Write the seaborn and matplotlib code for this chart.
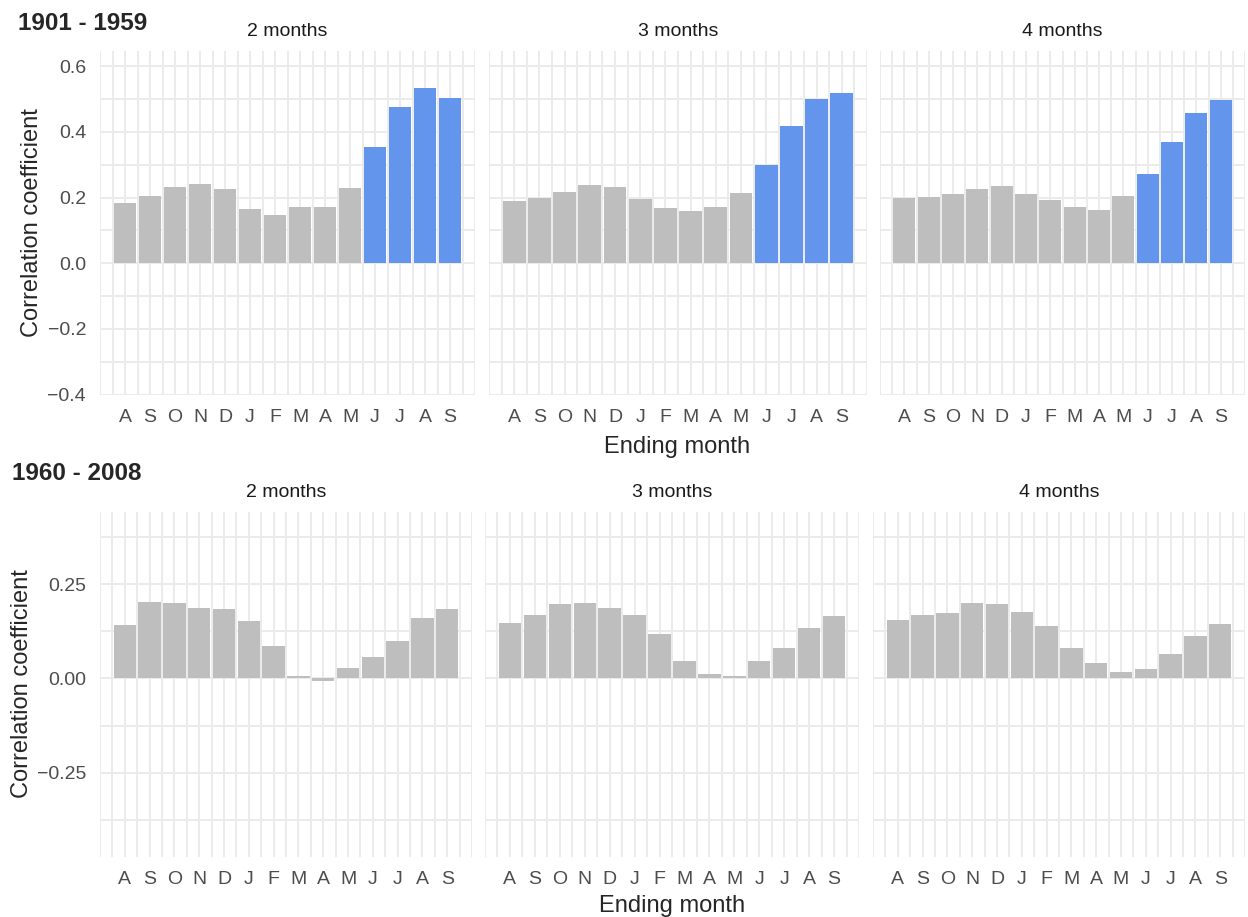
import numpy as np
import pandas as pd
import seaborn as sns
import matplotlib.pyplot as plt

# month at the end of the moving window (Aug of previous year -> Sep)
months = ["A", "S", "O", "N", "D", "J", "F", "M", "A", "M", "J", "J", "A", "S"]
windows = ["2 months", "3 months", "4 months"]
periods = ["1901 - 1959", "1960 - 2008"]

# correlation coefficients
early_2m = [0.183, 0.205, 0.233, 0.240, 0.227, 0.166, 0.148, 0.172, 0.172, 0.230, 0.353, 0.475, 0.533, 0.504]
early_3m = [0.188, 0.200, 0.217, 0.239, 0.233, 0.197, 0.167, 0.159, 0.172, 0.214, 0.299, 0.419, 0.500, 0.517]
early_4m = [0.198, 0.201, 0.211, 0.226, 0.236, 0.210, 0.192, 0.172, 0.163, 0.205, 0.273, 0.368, 0.457, 0.498]

late_2m = [0.141, 0.203, 0.201, 0.188, 0.184, 0.153, 0.087, 0.006, -0.007, 0.029, 0.057, 0.100, 0.160, 0.184]
late_3m = [0.148, 0.169, 0.198, 0.201, 0.187, 0.168, 0.118, 0.047, 0.011, 0.007, 0.046, 0.081, 0.134, 0.165]
late_4m = [0.155, 0.169, 0.174, 0.201, 0.199, 0.176, 0.139, 0.080, 0.041, 0.018, 0.025, 0.066, 0.113, 0.145]

# significant months (blue)
early_sig = [False, False, False, False, False, False, False, False, False, False, True, True, True, True]
late_sig = [False, False, False, False, False, False, False, False, False, False, False, False, False, False]

rows = []
for period, series, sig in [
    (periods[0], [early_2m, early_3m, early_4m], early_sig),
    (periods[1], [late_2m, late_3m, late_4m], late_sig),
]:
    for win, vals in zip(windows, series):
        for i, (m, v, s) in enumerate(zip(months, vals, sig)):
            rows.append({"period": period, "window": win, "pos": i, "month": m, "r": v, "sig": s})
df = pd.DataFrame(rows)

sns.set_theme(style="white")
plt.rcParams["font.family"] = ["Liberation Sans", "DejaVu Sans"]

W, H = 1248, 917
fig = plt.figure(figsize=(W / 100, H / 100), dpi=100)
fig.patch.set_facecolor("white")

# panel boxes in pixels: (left, right, top, bottom)
boxes = {
    periods[0]: [(100, 475, 51, 395), (489, 867, 51, 395), (880, 1245, 51, 395)],
    periods[1]: [(100, 472, 512, 857), (485, 859, 512, 857), (873, 1245, 512, 857)],
}
ylims = {periods[0]: (-0.401, 0.646), periods[1]: (-0.474, 0.442)}
yticks = {periods[0]: [-0.4, -0.2, 0.0, 0.2, 0.4, 0.6], periods[1]: [-0.25, 0.0, 0.25]}
yminor = {periods[0]: [-0.3, -0.1, 0.1, 0.3, 0.5], periods[1]: [-0.375, -0.125, 0.125, 0.375]}
yfmt = {periods[0]: "{:.1f}", periods[1]: "{:.2f}"}

palette = {True: "#6495ED", False: "#BEBEBE"}
tick_col = "#4D4D4D"

for period in periods:
    for j, win in enumerate(windows):
        l, r, t, b = boxes[period][j]
        ax = fig.add_axes([l / W, 1 - b / H, (r - l) / W, (b - t) / H])
        sub = df[(df.period == period) & (df.window == win)]
        sns.barplot(data=sub, x="pos", y="r", hue="sig", palette=palette, dodge=False,
                    width=0.9, saturation=1, legend=False, ax=ax, linewidth=0)
        ax.set_xlim(-1, 14)
        ax.set_ylim(*ylims[period])
        ax.set_xticks(range(len(months)))
        ax.set_xticklabels(months)
        ax.set_xticks(np.arange(-1, 14.01, 0.5), minor=True)
        ax.set_yticks(yticks[period])
        ax.set_yticks(yminor[period], minor=True)
        if j == 0:
            ax.set_yticklabels([yfmt[period].format(v).replace("-", "\u2212") for v in yticks[period]])
        else:
            ax.set_yticklabels([])
        ax.set_xlabel("")
        ax.set_ylabel("")
        ax.grid(True, which="both", color="#EBEBEB", linewidth=1.4)
        ax.set_axisbelow(True)
        for s in ax.spines.values():
            s.set_visible(False)
        ax.tick_params(which="both", length=0)
        ax.tick_params(axis="x", pad=10, labelsize=14, labelcolor=tick_col)
        ax.tick_params(axis="y", pad=10, labelsize=14, labelcolor=tick_col)
        fig.text((l + r) / 2 / W, 1 - (t - 19) / H, win, ha="center", va="center",
                 fontsize=14, color="#1A1A1A")

# titles and axis labels
fig.text(18 / W, 1 - 24 / H, periods[0], ha="left", va="center", fontsize=17.5, fontweight="bold")
fig.text(12 / W, 1 - 473 / H, periods[1], ha="left", va="center", fontsize=17.5, fontweight="bold")
fig.text(32 / W, 1 - 223 / H, "Correlation coefficient", rotation=90, ha="center", va="center", fontsize=17)
fig.text(22 / W, 1 - 684 / H, "Correlation coefficient", rotation=90, ha="center", va="center", fontsize=17)
fig.text(677 / W, 1 - 447 / H, "Ending month", ha="center", va="center", fontsize=17)
fig.text(672 / W, 1 - 906 / H, "Ending month", ha="center", va="center", fontsize=17)

fig.savefig("out.png", dpi=100)
